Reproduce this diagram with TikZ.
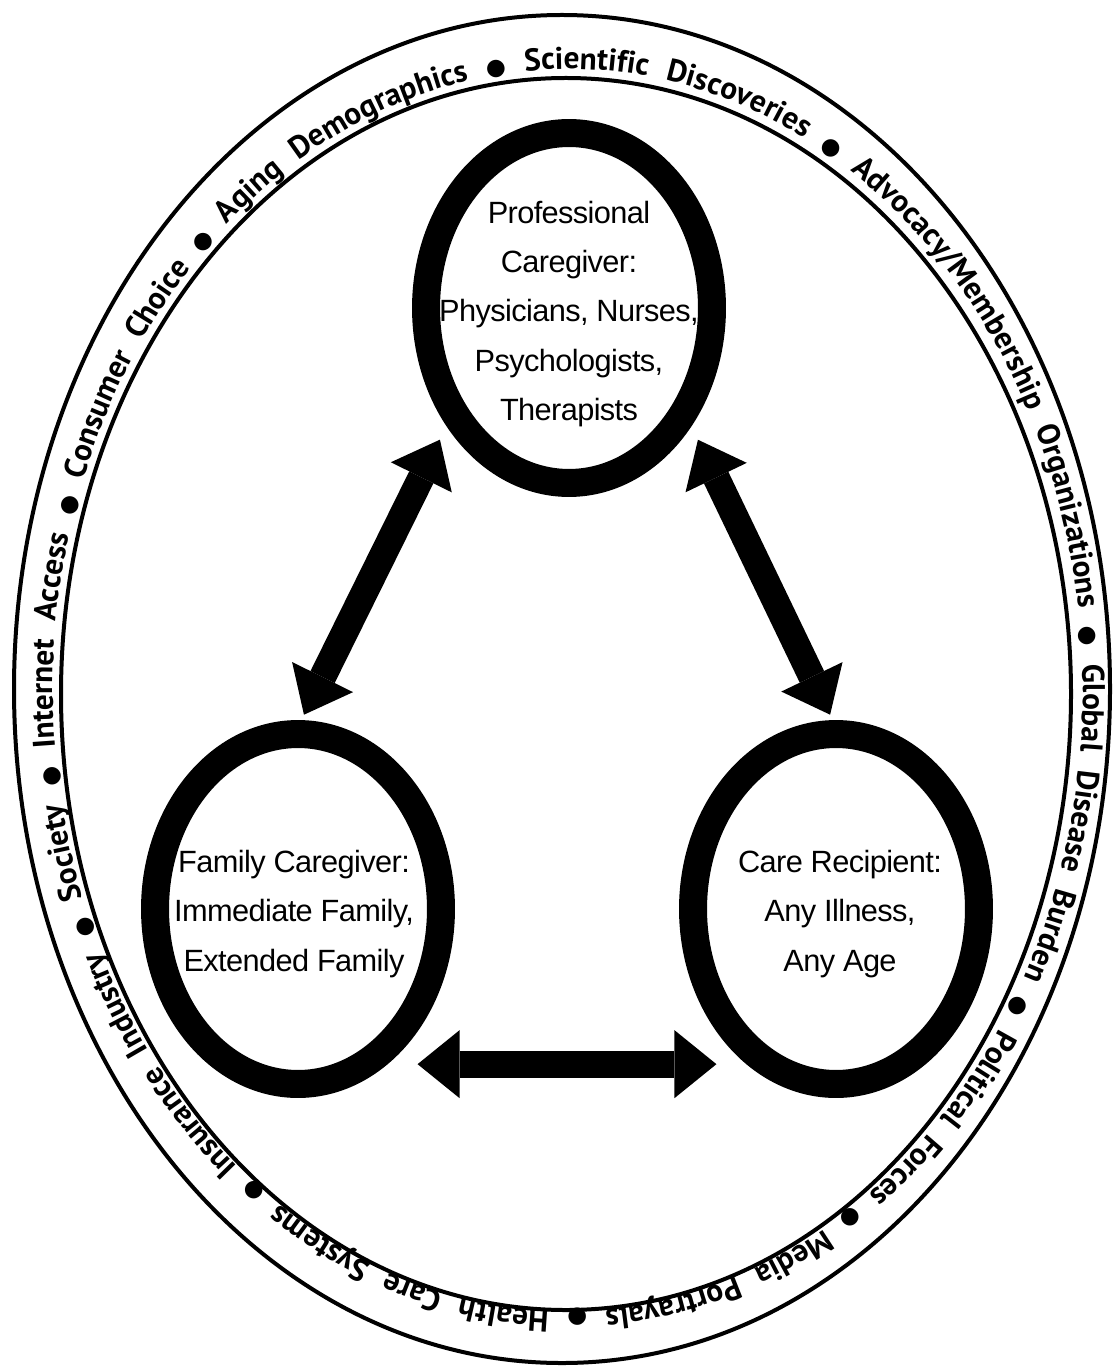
\documentclass[tikz,border=0pt]{standalone}
\usepackage{fontspec}
\usetikzlibrary{shapes.geometric,arrows.meta,decorations.text}
\newfontfamily\capfont{Liberation Sans}[LetterSpace=-2]
\newfontfamily\ringfont{PT Sans}
\newfontfamily\ringdotfont{DejaVu Sans}
\newcommand\rtx{\ringfont\bfseries\fontsize{17.8}{17.8}\selectfont}
\newcommand\rdt{\ringdotfont\fontsize{13}{13}\selectfont}
\tikzset{
    bubble/.style={ellipse, draw, line width=0.56cm, minimum width=5.72cm, minimum height=7cm, inner sep=0pt},
    blurb/.style={align=center, inner sep=0pt, font=\capfont\fontsize{17.5}{28}\selectfont},
    ringline/.style={line width=0.08cm},
    link/.style={line width=0.54cm, {Triangle[length=0.84cm,width=1.36cm,line width=0pt]}-{Triangle[length=0.84cm,width=1.36cm,line width=0pt]}}
}
\begin{document}
\begin{tikzpicture}[x=0.02cm, y=-0.02cm]
    \useasboundingbox (0,0) rectangle (1117,1371);
    \fill[white] (0,0) rectangle (1117,1371);
    \draw[ringline] (562,689) ellipse [x radius=548, y radius=674];
    \draw[ringline] (566,694) ellipse [x radius=505, y radius=616];
    \path[decorate, decoration={text along path, text align={fit to path stretching spaces},
        text={|\rdt|●|\rtx| Insurance Industry |\rdt|●|\rtx| Society |\rdt|●|\rtx| Internet Access |\rdt|●|\rtx| Consumer Choice |\rdt|●|\rtx| Aging Demographics |\rdt|●|\rtx| Scientific Discoveries |\rdt|●|\rtx| Advocacy/Membership Organizations |\rdt|●|\rtx| Global Disease Burden |\rdt|●|\rtx| Political Forces |\rdt|●|\rtx| Media Portrayals |\rdt|●|\rtx| Health Care Systems}}]
        (568,690) ++(126:515 and 621) arc[start angle=126, end angle=484, x radius=515, y radius=621];
    \node[bubble] (pro) at (569,308) {};
    \node[bubble] (fam) at (298,909) {};
    \node[bubble] (rec) at (836,909) {};
    \node[blurb] (pro-txt) at (569,314) {Professional\\Caregiver:\\Physicians, Nurses,\\Psychologists,\\Therapists};
    \node[blurb] (fam-txt) at (294,914) {Family Caregiver:\\Immediate Family,\\Extended Family};
    \node[blurb] (rec-txt) at (840,914) {Care Recipient:\\Any Illness,\\Any Age};
    \draw[link, shorten <=0.3cm, shorten >=0.12cm] (pro.224) -- (fam.89);
    \draw[link, shorten <=0.3cm, shorten >=0.12cm] (pro.316) -- (rec.91);
    \draw[link, shorten <=0.6cm, shorten >=0.6cm] (fam.300) -- (rec.240);
\end{tikzpicture}
\end{document}
